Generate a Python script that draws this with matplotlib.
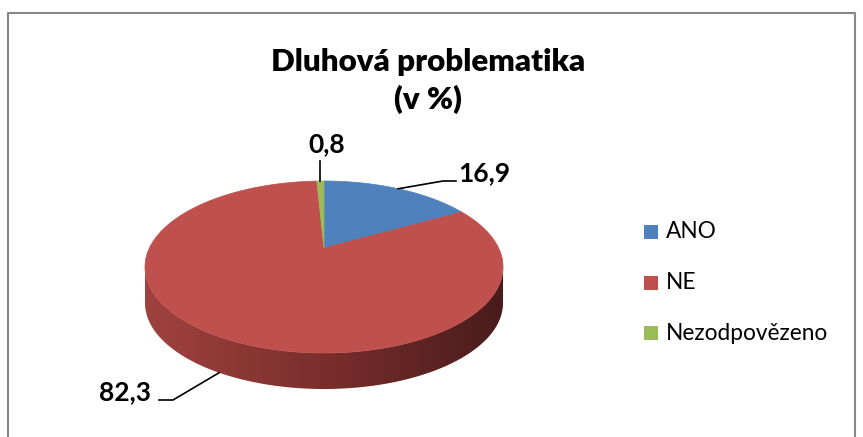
import matplotlib
matplotlib.use("Agg")
import matplotlib.pyplot as plt
from matplotlib.patches import Polygon, Rectangle
from matplotlib.colors import LinearSegmentedColormap
import numpy as np

# data
labels = ["ANO", "NE", "Nezodpovězeno"]
values = [16.9, 82.3, 0.8]
value_text = ["16,9", "82,3", "0,8"]
colors = ["#4F81BD", "#C0504D", "#9BBB59"]
title = "Dluhová problematika\n(v %)"

# pie geometry in pixel space (pseudo 3D with a little perspective)
cx, cy = 324, 248
ra, rb = 174.6, 81.8
persp = 0.221
depth = 36

plt.rcParams['font.family'] = ['Lato', 'DejaVu Sans']


def proj(theta):
    """theta in degrees, 90 = far point of the pie"""
    t = np.radians(theta)
    s = 1.0 / (1.0 + persp * np.sin(t))
    return cx + ra * np.cos(t) * s, cy - rb * np.sin(t) * s


fig = plt.figure(figsize=(8.63, 4.37), dpi=100)
ax = fig.add_axes([0, 0, 1, 1])
ax.set_xlim(0, 863)
ax.set_ylim(437, 0)
ax.axis("off")

# outer frame
ax.plot([8, 8, 855, 855], [440, 13, 13, 440], color="#868686", lw=1.5)

# side wall (front part only), one polygon filled with a horizontal gradient
th_left = 180 + np.degrees(np.arcsin(persp))
th_right = 360 - np.degrees(np.arcsin(persp))
ths = np.linspace(th_left, th_right, 200)
top = [proj(t) for t in ths]
wall = top + [(x, y + depth) for x, y in top[::-1]]
wall_patch = Polygon(wall, closed=True, facecolor="none", edgecolor="none")
ax.add_patch(wall_patch)
xl, xr = top[0][0], top[-1][0]
side_cmap = LinearSegmentedColormap.from_list(
    "side", ["#A0423F", "#7A2E2C", "#481C1B"])
grad = np.linspace(0, 1, 256).reshape(1, -1)
im = ax.imshow(grad, cmap=side_cmap, aspect="auto",
               extent=[xl, xr, 400, 240], interpolation="bilinear")
im.set_clip_path(wall_patch)

# top face, clockwise from 12 o'clock
start = 90.0
mids = []
for v, c in zip(values, colors):
    sweep = v / sum(values) * 360
    arc = np.linspace(start, start - sweep, max(int(sweep), 2) + 1)
    pts = [(cx, cy)] + [proj(t) for t in arc]
    ax.add_patch(Polygon(pts, closed=True, facecolor=c, edgecolor=c, lw=0.5,
                         zorder=3))
    mids.append(start - sweep / 2)
    start -= sweep

ax.set_xlim(0, 863)
ax.set_ylim(437, 0)

# data labels with leader lines
font_lbl = dict(fontsize=19, fontweight="bold", color="black")
# ANO
ax_, ay_ = proj(mids[0])
ax.plot([ax_, 443, 456], [ay_, 181, 181], color="black", lw=1.2, zorder=4)
ax.text(458, 173, value_text[0], ha="left", va="center", **font_lbl)
# NE (anchor on the lower edge of the wall)
nx, ny = proj(mids[1])
ax.plot([nx, 173, 159], [ny + depth, 400, 400], color="black", lw=1.2, zorder=4)
ax.text(125, 392, value_text[1], ha="center", va="center", **font_lbl)
# Nezodpovezeno
gx, gy = proj(mids[2])
ax.plot([gx, gx], [gy, 161], color="black", lw=1.2, zorder=4)
ax.text(327, 144, value_text[2], ha="center", va="center", **font_lbl)

# title
ax.text(428, 81, title, ha="center", va="center", fontsize=22.5,
        fontweight="heavy", linespacing=1.4)

# legend
for i, (lab, c) in enumerate(zip(labels, colors)):
    yy = 232 + i * 50.5
    ax.add_patch(Rectangle((644, yy - 7), 14, 14, facecolor=c, edgecolor="none"))
    ax.text(666, yy, lab, ha="left", va="center", fontsize=16.3)

fig.savefig("out.png", dpi=100)
